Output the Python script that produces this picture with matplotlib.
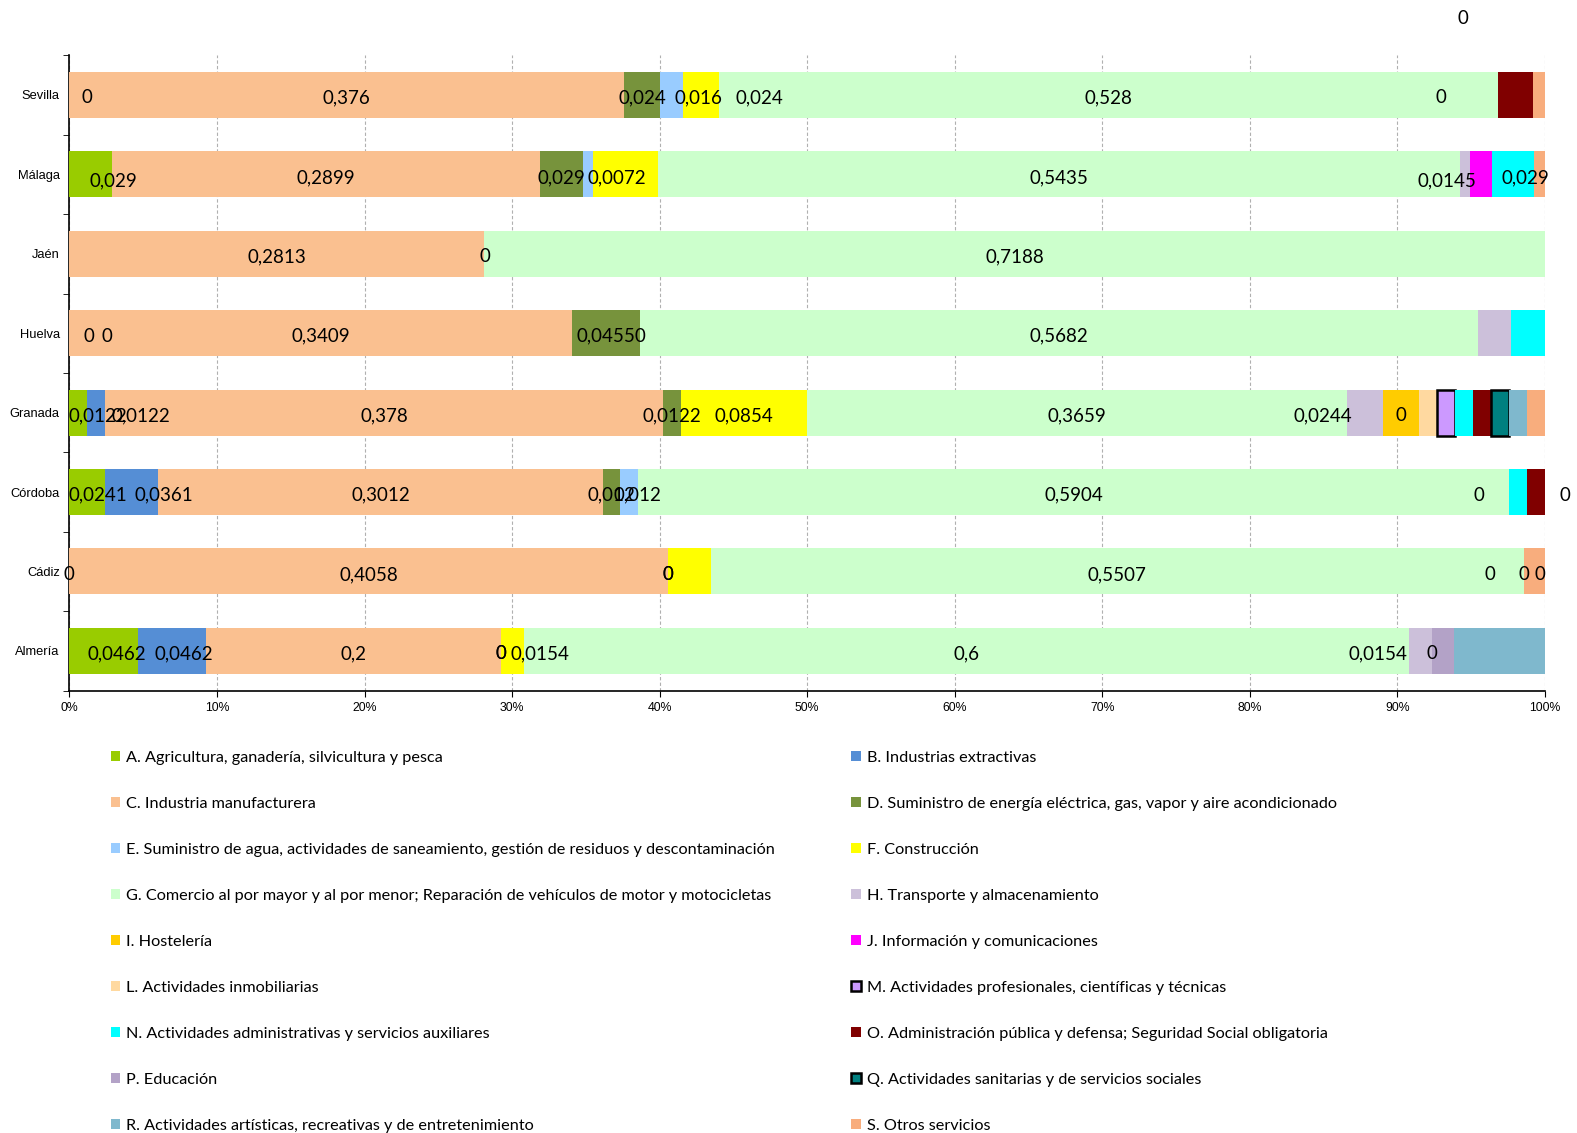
import numpy as np
import matplotlib.pyplot as plt
from matplotlib.patches import Patch

# Provinces, top to bottom as in the chart
cities = ['Sevilla', 'Málaga', 'Jaén', 'Huelva', 'Granada', 'Córdoba', 'Cádiz', 'Almería']

codes = ['A', 'B', 'C', 'D', 'E', 'F', 'G', 'H', 'I', 'J', 'L', 'M', 'N', 'O', 'P', 'Q', 'R', 'S']
sector_names = [
    'A. Agricultura, ganadería, silvicultura y pesca',
    'B. Industrias extractivas',
    'C. Industria manufacturera',
    'D. Suministro de energía eléctrica, gas, vapor y aire acondicionado',
    'E. Suministro de agua, actividades de saneamiento, gestión de residuos y descontaminación',
    'F. Construcción',
    'G. Comercio al por mayor y al por menor; Reparación de vehículos de motor y motocicletas',
    'H. Transporte y almacenamiento',
    'I. Hostelería',
    'J. Información y comunicaciones',
    'L. Actividades inmobiliarias',
    'M. Actividades profesionales, científicas y técnicas',
    'N. Actividades administrativas y servicios auxiliares',
    'O. Administración pública y defensa; Seguridad Social obligatoria',
    'P. Educación',
    'Q. Actividades sanitarias y de servicios sociales',
    'R. Actividades artísticas, recreativas y de entretenimiento',
    'S. Otros servicios',
]

# share of each sector (order of codes)
#          A       B       C       D       E       F       G       H       I       J       L       M       N       O       P       Q       R       S
sevilla = [0,      0,      0.376,  0.024,  0.016,  0.024,  0.528,  0,      0,      0,      0,      0,      0,      0.024,  0,      0,      0,      0.008]
malaga  = [0.029,  0,      0.2899, 0.029,  0.0072, 0.0435, 0.5435, 0.0072, 0,      0.0145, 0,      0,      0.029,  0,      0,      0,      0,      0.0072]
jaen    = [0,      0,      0.2813, 0,      0,      0,      0.7188, 0,      0,      0,      0,      0,      0,      0,      0,      0,      0,      0]
huelva  = [0,      0,      0.3409, 0.0455, 0,      0,      0.5682, 0.0227, 0,      0,      0,      0,      0.0227, 0,      0,      0,      0,      0]
granada = [0.0122, 0.0122, 0.378,  0.0122, 0,      0.0854, 0.3659, 0.0244, 0.0244, 0,      0.0122, 0.0122, 0.0122, 0.0122, 0,      0.0122, 0.0122, 0.0122]
cordoba = [0.0241, 0.0361, 0.3012, 0.012,  0.012,  0,      0.5904, 0,      0,      0,      0,      0,      0.012,  0.012,  0,      0,      0,      0]
cadiz   = [0,      0,      0.4058, 0,      0,      0.029,  0.5507, 0,      0,      0,      0,      0,      0,      0,      0,      0,      0,      0.0145]
almeria = [0.0462, 0.0462, 0.2,    0,      0,      0.0154, 0.6,    0.0154, 0,      0,      0,      0,      0,      0,      0.0154, 0,      0.0615, 0]

shares = np.array([sevilla, malaga, jaen, huelva, granada, cordoba, cadiz, almeria])

# data labels as shown in the chart: (sector, text)
labels = {
    'Sevilla': [('A', '0'), ('C', '0,376'), ('D', '0,024'), ('E', '0,016'), ('F', '0,024'),
                ('G', '0,528'), ('H', '0'), ('I', '0')],
    'Málaga': [('A', '0,029'), ('C', '0,2899'), ('D', '0,029'), ('E', '0,0072'), ('G', '0,5435'),
               ('J', '0,0145'), ('N', '0,029')],
    'Jaén': [('C', '0,2813'), ('D', '0'), ('G', '0,7188')],
    'Huelva': [('A', '0'), ('B', '0'), ('C', '0,3409'), ('D', '0,0455'), ('E', '0'), ('G', '0,5682')],
    'Granada': [('A', '0,0122'), ('B', '0,0122'), ('C', '0,378'), ('D', '0,0122'), ('F', '0,0854'),
                ('G', '0,3659'), ('H', '0,0244'), ('I', '0')],
    'Córdoba': [('A', '0,0241'), ('B', '0,0361'), ('C', '0,3012'), ('D', '0,012'), ('E', '0,012'),
                ('G', '0,5904'), ('H', '0'), ('P', '0')],
    'Cádiz': [('A', '0'), ('C', '0,4058'), ('D', '0'), ('E', '0'), ('G', '0,5507'),
              ('H', '0'), ('I', '0'), ('J', '0')],
    'Almería': [('A', '0,0462'), ('B', '0,0462'), ('C', '0,2'), ('D', '0'), ('E', '0'),
                ('F', '0,0154'), ('G', '0,6'), ('H', '0,0154'), ('I', '0')],
}

# labels that were dragged away from the segment centre (pixels, x right / y up)
nudges = {
    ('Sevilla', 'A'): (18, 0), ('Sevilla', 'E'): (27, 0), ('Sevilla', 'F'): (58, 0),
    ('Sevilla', 'H'): (-57, 0), ('Sevilla', 'I'): (-35, 79),
    ('Málaga', 'A'): (23, -3), ('Málaga', 'E'): (29, 0), ('Málaga', 'J'): (-34, -3),
    ('Málaga', 'N'): (12, 0),
    ('Huelva', 'A'): (20, 0), ('Huelva', 'B'): (38, 0),
    ('Granada', 'A'): (19, 0), ('Granada', 'B'): (44, 0), ('Granada', 'H'): (-42, 0),
    ('Córdoba', 'A'): (11, 0), ('Córdoba', 'B'): (32, 0), ('Córdoba', 'E'): (8, 0),
    ('Córdoba', 'H'): (-30, 0), ('Córdoba', 'P'): (20, 0),
    ('Cádiz', 'H'): (-34, 0), ('Cádiz', 'J'): (16, 0),
    ('Almería', 'A'): (13, 0), ('Almería', 'B'): (12, 0), ('Almería', 'F'): (28, 0),
    ('Almería', 'H'): (-42, 0),
}

colors = ['#99CC00', '#558ED5', '#FAC090', '#77933C', '#99CCFF', '#FFFF00', '#CCFFCC', '#CCC0DA',
          '#FFCC00', '#FF00FF', '#FFD9A0', '#CC99FF', '#00FFFF', '#800000', '#B3A2C7', '#008080',
          '#7FB8CD', '#F8AD7D']
boxed = ['M', 'Q']

calibri = ['Lato', 'DejaVu Sans']
arial = ['Liberation Sans', 'DejaVu Sans']

fig = plt.figure(figsize=(15.77, 11.33), dpi=100)
ax = fig.add_axes([0.044, 0.3905, 0.9357, 0.5607])

ypos = np.arange(len(cities))[::-1]
left = np.zeros(len(cities))
starts = np.zeros_like(shares)
for j, code in enumerate(codes):
    w = shares[:, j]
    starts[:, j] = left
    keep = w > 0
    if code in boxed:
        ax.barh(ypos[keep], w[keep], left=left[keep], height=0.58, color=colors[j],
                edgecolor='black', linewidth=1.8, zorder=3)
    else:
        ax.barh(ypos[keep], w[keep], left=left[keep], height=0.58, color=colors[j],
                linewidth=0, zorder=3)
    left = left + w

# data labels
for i, city in enumerate(cities):
    for code, txt in labels[city]:
        j = codes.index(code)
        xc = starts[i, j] + shares[i, j] / 2
        dx, dy = nudges.get((city, code), (0, 0))
        ax.annotate(txt, (xc, ypos[i]), xytext=(dx, dy - 3), textcoords='offset pixels',
                    ha='center', va='center', fontsize=13.5, family=calibri, zorder=5,
                    annotation_clip=False)

ax.set_xlim(0, 1)
ax.set_ylim(-0.5, len(cities) - 0.5)
ticks = np.arange(0, 1.01, 0.1)
ax.set_xticks(ticks)
ax.set_xticklabels([f'{int(round(v * 100))}%' for v in ticks], family=arial, fontsize=8.8)
ax.set_yticks(ypos)
ax.set_yticklabels(cities, family=arial, fontsize=9.3)
ax.set_yticks(np.arange(-0.5, len(cities), 1), minor=True)
ax.tick_params(axis='y', which='major', length=0, pad=7)
ax.tick_params(axis='y', which='minor', length=4, direction='out')
ax.tick_params(axis='x', which='major', length=4, direction='out', pad=4)
ax.grid(axis='x', color='#B0B0B0', linestyle=(0, (3, 2)), linewidth=0.8, zorder=0)
ax.spines['top'].set_visible(False)
ax.spines['right'].set_visible(False)
ax.spines['left'].set_linewidth(1.2)
ax.spines['bottom'].set_linewidth(1.2)

# legend laid out row-wise in two columns
handles = []
for j, code in enumerate(codes):
    if code in boxed:
        handles.append(Patch(facecolor=colors[j], edgecolor='black', linewidth=1.8, label=sector_names[j]))
    else:
        handles.append(Patch(facecolor=colors[j], edgecolor='none', label=sector_names[j]))
order = list(range(0, len(codes), 2)) + list(range(1, len(codes), 2))
fig.legend([handles[k] for k in order], [sector_names[k] for k in order],
           loc='upper left', bbox_to_anchor=(0.0701, 0.3374), ncol=2, frameon=False,
           borderpad=0, borderaxespad=0, handlelength=0.6, handleheight=0.6,
           handletextpad=0.35, labelspacing=1.97, columnspacing=4.7,
           prop={'family': calibri, 'size': 11.7})

fig.savefig('out.png', dpi=100)
